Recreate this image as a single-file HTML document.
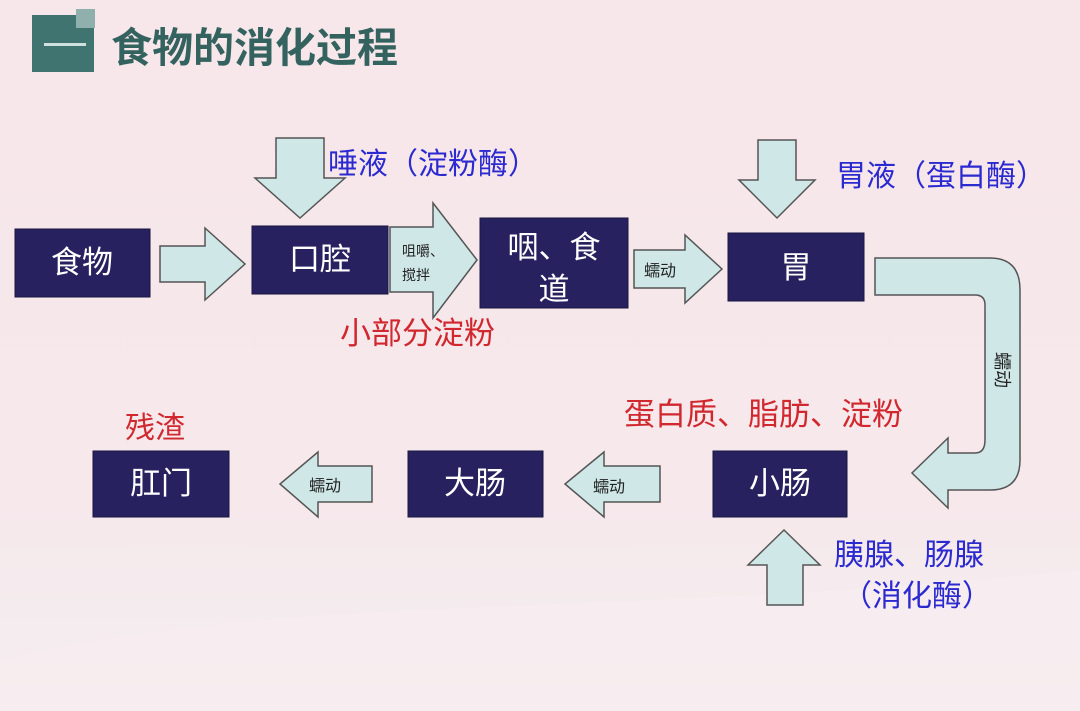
<!DOCTYPE html>
<html><head><meta charset="utf-8"><style>
html,body{margin:0;padding:0}
body{width:1080px;height:711px;overflow:hidden;background:#f6e7ea;font-family:"Liberation Sans","Noto Sans CJK SC",sans-serif;position:relative}
svg{position:absolute;left:0;top:0}
</style></head><body>
<svg width="1080" height="711" viewBox="0 0 1080 711" font-family="Liberation Sans, Noto Sans CJK SC, sans-serif">
<defs>
<linearGradient id="bg" x1="0" y1="0" x2="0" y2="1">
<stop offset="0" stop-color="#f7e6ea"/><stop offset="0.7" stop-color="#f6e8eb"/><stop offset="1" stop-color="#f3eef0"/>
</linearGradient>
</defs>
<rect width="1080" height="711" fill="url(#bg)"/>
<path d="M0 660 C300 590 600 620 1080 570 L1080 711 L0 711Z" fill="#f8edf0" opacity="0.7"/>
<rect x="32" y="15" width="62" height="57" fill="#3f7471"/>
<rect x="76" y="9" width="19" height="19" fill="#8fb0ad"/>
<rect x="44" y="43" width="42" height="3" fill="#cfe0de"/>
<text x="111" y="62" font-size="41" font-weight="bold" fill="#33625f" font-family="Noto Sans CJK SC, sans-serif">食物的消化过程</text>

<g fill="#cfe7e7" stroke="#555" stroke-width="1.5">
<path d="M160 246 H205 V228 L245 264 L205 300 V282 H160Z"/>
<path d="M276 138 H324 V178 H345 L300 218 L255 178 H276Z"/>
<path d="M390 227 H433 V203 L477 260 L433 318 V292 H390Z"/>
<path d="M634 250 H685 V235 L722 269 L685 303 V288 H634Z"/>
<path d="M758 140 H796 V180 H815 L777 218 L739 180 H758Z"/>
<path d="M875 258 H990 Q1020 258 1020 290 V460 Q1020 490 990 490 H948 V508 L912 473 L948 438 V453 H975 Q985 453 985 440 V305 Q985 295 975 295 H875Z"/>
<path d="M660 466 H604 V452 L565 484 L604 517 V502 H660Z"/>
<path d="M372 466 H318 V452 L280 484 L318 517 V502 H372Z"/>
<path d="M767 605 H803 V565 H820 L784 530 L748 565 H767Z"/>
</g>

<g fill="#27215f" stroke="#1a1640" stroke-width="1">
<rect x="15" y="229" width="135" height="68"/>
<rect x="252" y="226" width="136" height="68"/>
<rect x="480" y="218" width="148" height="90"/>
<rect x="728" y="233" width="136" height="68"/>
<rect x="713" y="451" width="134" height="66"/>
<rect x="408" y="451" width="135" height="66"/>
<rect x="93" y="451" width="136" height="66"/>
</g>
<g fill="#fff" font-size="31" text-anchor="middle" font-family="Noto Sans CJK SC, sans-serif">
<text x="82" y="273">食物</text>
<text x="320" y="270">口腔</text>
<text x="554" y="258">咽、食</text>
<text x="554" y="300">道</text>
<text x="796" y="278">胃</text>
<text x="780" y="494">小肠</text>
<text x="475" y="494">大肠</text>
<text x="161" y="494">肛门</text>
</g>
<g fill="#222" font-size="14" font-family="Noto Sans CJK SC, sans-serif">
<text x="402" y="256">咀嚼、</text>
<text x="402" y="280">搅拌</text>
<text x="644" y="276" font-size="16">蠕动</text>
<text x="593" y="492" font-size="16">蠕动</text>
<text x="309" y="491" font-size="16">蠕动</text>
<text x="0" y="0" font-size="18" transform="translate(996 352) rotate(90)">蠕动</text>
</g>
<g font-size="30" font-family="Noto Sans CJK SC, sans-serif">
<text x="328" y="174" fill="#2b2ad0">唾液（淀粉酶）</text>
<text x="836" y="186" fill="#2b2ad0">胃液（蛋白酶）</text>
<text x="834" y="565" fill="#2b2ad0">胰腺、肠腺</text>
<text x="842" y="606" fill="#2b2ad0">（消化酶）</text>
<text x="340" y="344" fill="#d0282e" font-size="31">小部分淀粉</text>
<text x="624" y="425" fill="#d0282e" font-size="31">蛋白质、脂肪、淀粉</text>
<text x="125" y="438" fill="#d0282e">残渣</text>
</g>
</svg>
</body></html>
